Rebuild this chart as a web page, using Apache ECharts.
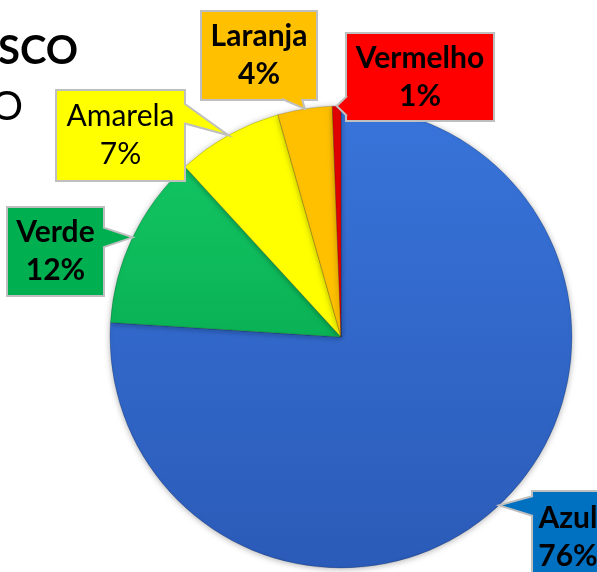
<!DOCTYPE html>
<html><head><meta charset="utf-8">
<script src="https://cdn.jsdelivr.net/npm/echarts@6/dist/echarts.min.js"></script>
<style>html,body{margin:0;padding:0;background:#fff;overflow:hidden}#c{width:597px;height:572px}</style>
</head><body><div id="c"></div>
<script>
// ---- data ----
const categories = ['Azul', 'Verde', 'Amarela', 'Laranja', 'Vermelho'];
const values = [76, 12.2, 7.4, 3.8, 0.6];
const titleLines = ['SCO', 'O'];

// ---- styles / layout ----
const sliceColors = [
  {type:'linear',x:0,y:0,x2:0,y2:1,colorStops:[{offset:0,color:'#3874DA'},{offset:1,color:'#2B5BB8'}]},
  {type:'linear',x:0,y:0,x2:0,y2:1,colorStops:[{offset:0,color:'#12C462'},{offset:1,color:'#0AB255'}]},
  '#FFFF00', '#FFC000', '#E00000'
];
const boxColors = ['#0070C0', '#00B050', '#FFFF00', '#FFC000', '#FF0000'];
const LH = 38;
const boxes = [
  {cx: 568, cy: 537, w: 70, h: 90, bold: true, off: 0},
  {cx: 55.5, cy: 251.5, w: 95, h: 87, bold: true, off: 0},
  {cx: 120.5, cy: 135.5, w: 127, h: 89, bold: false, off: -22},
  {cx: 259, cy: 55.5, w: 114, h: 87, bold: true, off: -10},
  {cx: 420, cy: 77, w: 146, h: 86, bold: true, off: 0}
];
const FONT = 'Lato, "Open Sans", sans-serif';

const chart = echarts.init(document.getElementById('c'), null, {renderer: 'canvas'});

const seriesData = categories.map((name, i) => {
  const b = boxes[i];
  const pv = (b.h - 2 * LH) / 2;
  return {
    name: name,
    value: values[i],
    itemStyle: {color: sliceColors[i]},
    label: {
      width: b.w,
      padding: [pv, 0, pv, 0],
      backgroundColor: boxColors[i],
      borderColor: '#BFBFBF',
      borderWidth: 2,
      fontWeight: b.bold ? 'bold' : 'normal'
    }
  };
});

chart.setOption({
  animation: false,
  backgroundColor: '#ffffff',
  title: [
    {text: titleLines[0], left: -2, top: 31, padding: 0,
     textStyle: {fontSize: 40, fontWeight: 'bold', fontFamily: FONT, color: '#000'}},
    {text: titleLines[1], left: -9, top: 87, padding: 0,
     textStyle: {fontSize: 40, fontWeight: 'normal', fontFamily: FONT, color: '#000'}}
  ],
  series: [{
    type: 'pie',
    center: [341, 337],
    radius: 231,
    startAngle: 90,
    clockwise: true,
    avoidLabelOverlap: false,
    percentPrecision: 0,
    itemStyle: {
      borderColor: 'rgba(0,0,0,0.18)',
      borderWidth: 1,
      shadowBlur: 6,
      shadowColor: 'rgba(0,0,0,0.3)',
      shadowOffsetY: 1
    },
    label: {
      show: true,
      position: 'outside',
      formatter: '{b}\n{d}%',
      color: '#000',
      fontFamily: FONT,
      fontSize: 30,
      lineHeight: LH,
      align: 'center'
    },
    labelLine: {show: false},
    labelLayout: function (p) {
      const b = boxes[p.dataIndex];
      return {x: b.cx, y: b.cy, align: 'center', verticalAlign: 'middle'};
    },
    emphasis: {disabled: true},
    data: seriesData
  }]
});

// callout pointers derived from the library's pie layout
const data = chart.getModel().getSeriesByIndex(0).getData();
const extra = [];
const HALF = 10;
const clamp = (v, a, c) => Math.max(a, Math.min(c, v));
for (let i = 0; i < categories.length; i++) {
  const L = data.getItemLayout(i);
  const mid = (L.startAngle + L.endAngle) / 2;
  const tip = [L.cx + L.r * Math.cos(mid), L.cy + L.r * Math.sin(mid)];
  const b = boxes[i];
  const left = b.cx - b.w / 2, right = b.cx + b.w / 2, top = b.cy - b.h / 2, bottom = b.cy + b.h / 2;
  let p1, p2, q1, q2;
  if (tip[0] > right || tip[0] < left) {
    const xe = tip[0] > right ? right : left;
    const inset = tip[0] > right ? -2 : 2;
    const yc = clamp(tip[1], top + HALF + 4, bottom - HALF - 4) + b.off;
    p1 = [xe, yc - HALF]; p2 = [xe, yc + HALF];
    q1 = [xe + inset, yc - HALF + 1]; q2 = [xe + inset, yc + HALF - 1];
  } else {
    const ye = tip[1] > bottom ? bottom : top;
    const inset = tip[1] > bottom ? -2 : 2;
    const xc = clamp(tip[0], left + HALF + 4, right - HALF - 4) + b.off;
    p1 = [xc - HALF, ye]; p2 = [xc + HALF, ye];
    q1 = [xc - HALF + 1, ye + inset]; q2 = [xc + HALF - 1, ye + inset];
  }
  extra.push({type: 'polygon', z: 100, shape: {points: [q1, tip, q2]}, style: {fill: boxColors[i], stroke: null}});
  extra.push({type: 'polygon', z: 100, shape: {points: [p1, tip, p2]}, style: {fill: boxColors[i], stroke: null}});
  extra.push({type: 'polyline', z: 101, shape: {points: [p1, tip, p2]}, style: {stroke: '#BFBFBF', lineWidth: 2, fill: null}});
}
chart.setOption({graphic: extra});
</script>
</body></html>
